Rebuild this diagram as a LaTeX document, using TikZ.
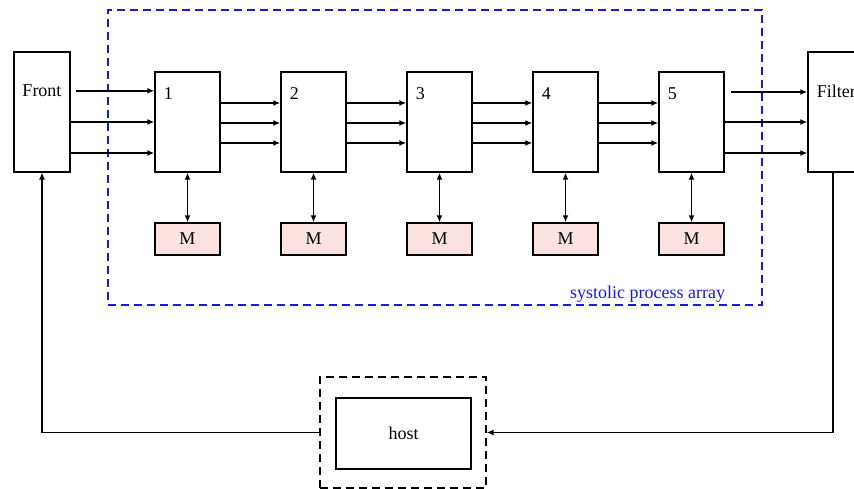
\documentclass[tikz,border=0pt]{standalone}
\usepackage{fontspec}
\setmainfont{Liberation Serif}
\usetikzlibrary{arrows.meta}
\definecolor{mempink}{RGB}{253,226,226}
\definecolor{arrayblue}{RGB}{25,25,230}

\begin{document}
\begin{tikzpicture}[x=1pt, y=-1pt, line width=1.1pt, >={Latex[length=7pt, width=6pt]},
  block/.style = {rectangle, draw, line width=1.4pt, inner sep=0pt},
  pe/.style = {block, minimum width=65pt, minimum height=100pt},
  memory/.style = {block, fill=mempink, minimum width=65pt, minimum height=32pt},
  tag/.style = {inner sep=0pt},
  data/.style = {->, line width=1.6pt},
  font=\fontsize{18pt}{20pt}\selectfont]
  \path [use as bounding box, clip] (0, 0) rectangle (854, 489);

  % Systolic array frame.
  \node at (435, 157.5) [draw=arrayblue, line width=1.4pt, dash pattern=on 8pt off 5pt, minimum width=654pt, minimum height=295pt, name=array,
    label={[tag, anchor=south east, text=arrayblue, xshift=-37pt, yshift=3pt]south east:systolic process array}] {};

  % Front and filter.
  \node at (42, 112) [block, minimum width=56pt, minimum height=120pt, name=front,
    label={[tag, name=fronttext, anchor=north, yshift=-33pt]north:Front}] {};
  \node at (833, 112) [block, minimum width=50pt, minimum height=120pt, name=filter,
    label={[tag, anchor=north west, xshift=9pt, yshift=-33pt]north west:Filter}] {};

  % Processing elements and their memories.
  \foreach \i/\x in {1/187.5, 2/313.5, 3/439.5, 4/565.5, 5/691.5} {
    \node at (\x, 122) [pe, name=pe\i,
      label={[tag, anchor=north west, xshift=9pt, yshift=-16pt]north west:\i}] {};
    \node at (\x, 239) [memory, name=m\i] {M};
  }

  % Host.
  \node at (403, 432.5) [block, dash pattern=on 8pt off 5pt, minimum width=166pt, minimum height=111pt, name=hostframe] {};
  \node at (403.5, 433.5) [block, minimum width=135pt, minimum height=71pt, name=host] {host};

  % Data paths.
  \draw [data, shorten <=14pt] (fronttext.east) -- (fronttext.east -| pe1.west);
  \draw [data] (pe1.west -| front.east) -- (pe1.west);
  \draw [data] ([yshift=-31pt]pe1.west -| front.east) -- ([yshift=-31pt]pe1.west);
  \foreach \i/\j in {1/2, 2/3, 3/4, 4/5}
    \foreach \dy in {19, -1, -21}
      \draw [data] ([yshift=\dy pt]pe\i.east) -- ([yshift=\dy pt]pe\j.west);
  \draw [data, shorten <=6pt] ([yshift=30pt]pe5.east) -- ([yshift=30pt]pe5.east -| filter.west);
  \draw [data] (pe5.east) -- (pe5.east -| filter.west);
  \draw [data] ([yshift=-31pt]pe5.east) -- ([yshift=-31pt]pe5.east -| filter.west);

  % Memory access.
  \foreach \i in {1, ..., 5}
    \draw [<->, line width=1.6pt] (pe\i) -- (m\i);

  % Host loop.
  \draw [->] (hostframe.west) -| (front.south);
  \draw [->] (filter.south) |- (hostframe.east);
\end{tikzpicture}
\end{document}
